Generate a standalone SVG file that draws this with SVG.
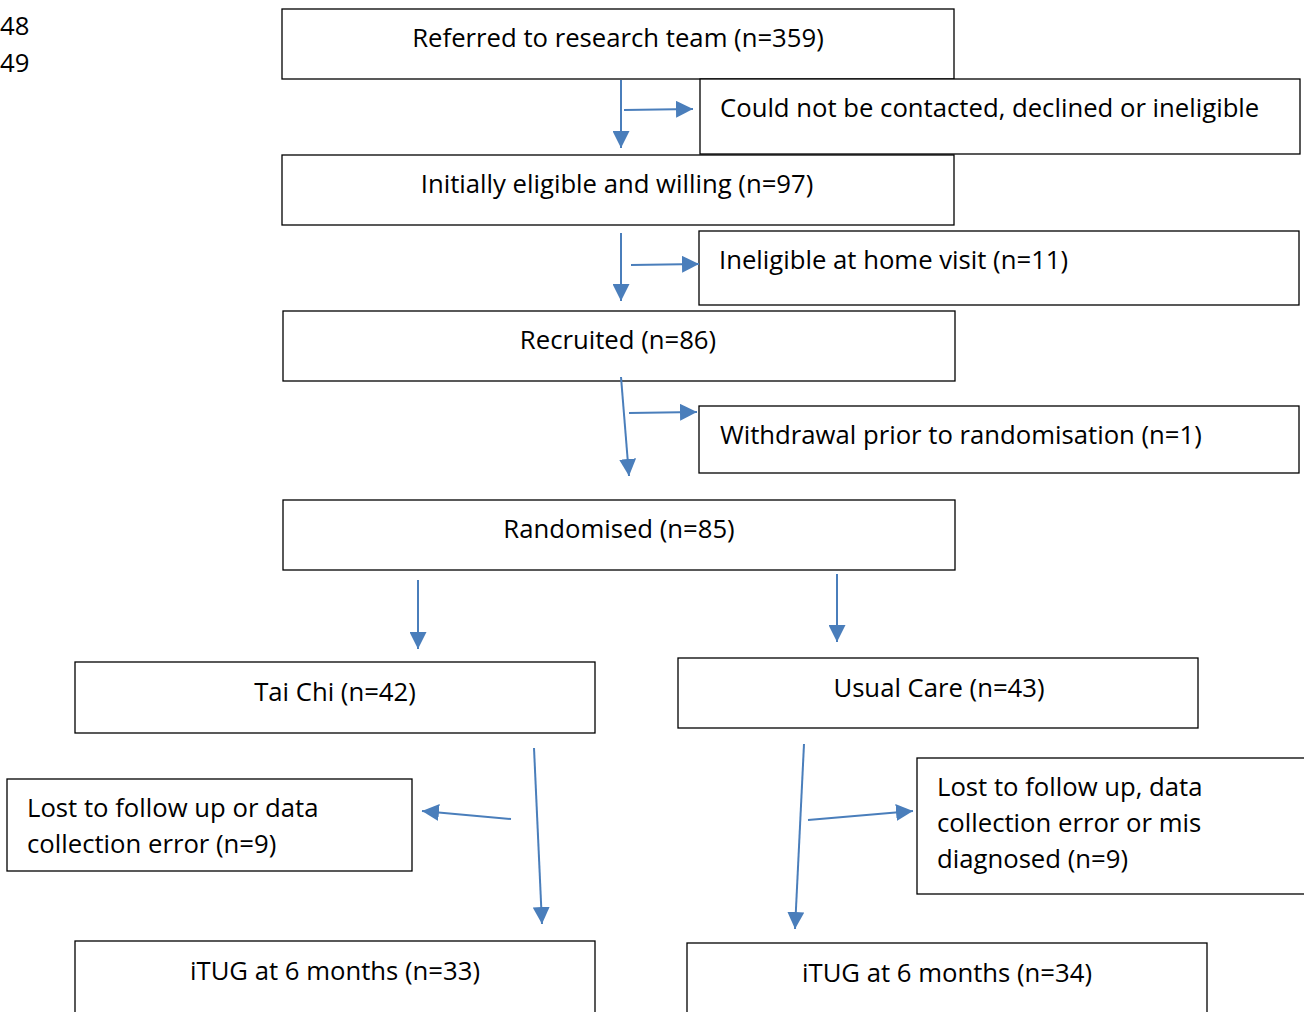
<svg xmlns="http://www.w3.org/2000/svg" width="1304" height="1012" viewBox="0 0 1304 1012">
<style>
.box{fill:#fff;stroke:#000;stroke-width:1.3}
.t{font-family:"Open Sans","Liberation Sans",Arial,sans-serif;font-size:25.7px;fill:#000}
.c{text-anchor:middle}
.ln{stroke:#4a7ebb;stroke-width:2;fill:none;marker-end:url(#ah)}
</style>
<defs>
<marker id="ah" viewBox="0 0 10 10" refX="10" refY="5" markerWidth="8.5" markerHeight="8.5" markerUnits="strokeWidth" orient="auto">
<path d="M0,0 L10,5 L0,10 z" fill="#4a7ebb"/>
</marker>
</defs>
<rect width="1304" height="1012" fill="#fff"/>
<text class="t" x="0" y="35">48</text>
<text class="t" x="0" y="72">49</text>
<g id="n1"><rect class="box" x="282" y="9" width="672" height="70"/><text class="t c" x="618" y="47">Referred to research team (n=359)</text></g>
<g id="n2"><rect class="box" x="700" y="79" width="600" height="75"/><text class="t" x="720" y="117">Could not be contacted, declined or ineligible</text></g>
<g id="n3"><rect class="box" x="282" y="155" width="672" height="70"/><text class="t c" x="617" y="193">Initially eligible and willing (n=97)</text></g>
<g id="n4"><rect class="box" x="699" y="231" width="600" height="74"/><text class="t" x="719" y="269">Ineligible at home visit (n=11)</text></g>
<g id="n5"><rect class="box" x="283" y="311" width="672" height="70"/><text class="t c" x="618" y="349">Recruited (n=86)</text></g>
<g id="n6"><rect class="box" x="699" y="406" width="600" height="67"/><text class="t" x="720" y="444">Withdrawal prior to randomisation (n=1)</text></g>
<g id="n7"><rect class="box" x="283" y="500" width="672" height="70"/><text class="t c" x="619" y="538">Randomised (n=85)</text></g>
<g id="n8"><rect class="box" x="75" y="662" width="520" height="71"/><text class="t c" x="335" y="701">Tai Chi (n=42)</text></g>
<g id="n9"><rect class="box" x="678" y="658" width="520" height="70"/><text class="t c" x="939" y="697">Usual Care (n=43)</text></g>
<g id="n10"><rect class="box" x="7" y="779" width="405" height="92"/><text class="t" x="27" y="817">Lost to follow up or data</text><text class="t" x="27" y="853">collection error (n=9)</text></g>
<g id="n11"><rect class="box" x="917" y="758" width="400" height="136"/><text class="t" x="937" y="796">Lost to follow up, data</text><text class="t" x="937" y="832">collection error or mis</text><text class="t" x="937" y="868">diagnosed (n=9)</text></g>
<g id="n12"><rect class="box" x="75" y="941" width="520" height="80"/><text class="t c" x="335" y="980">iTUG at 6 months (n=33)</text></g>
<g id="n13"><rect class="box" x="687" y="943" width="520" height="80"/><text class="t c" x="947" y="982">iTUG at 6 months (n=34)</text></g>
<g id="connectors">
<line class="ln" x1="621" y1="80" x2="621" y2="148"/>
<line class="ln" x1="624" y1="110" x2="693" y2="109"/>
<line class="ln" x1="621" y1="233" x2="621" y2="301"/>
<line class="ln" x1="631" y1="265" x2="699" y2="264"/>
<line class="ln" x1="621" y1="377" x2="629" y2="476"/>
<line class="ln" x1="629" y1="413" x2="697" y2="412"/>
<line class="ln" x1="418" y1="580" x2="418" y2="649"/>
<line class="ln" x1="837" y1="574" x2="837" y2="642"/>
<line class="ln" x1="534" y1="748" x2="542" y2="924"/>
<line class="ln" x1="511" y1="819" x2="422" y2="811"/>
<line class="ln" x1="804" y1="744" x2="795" y2="929"/>
<line class="ln" x1="808" y1="820" x2="913" y2="811"/>
</g>
</svg>
